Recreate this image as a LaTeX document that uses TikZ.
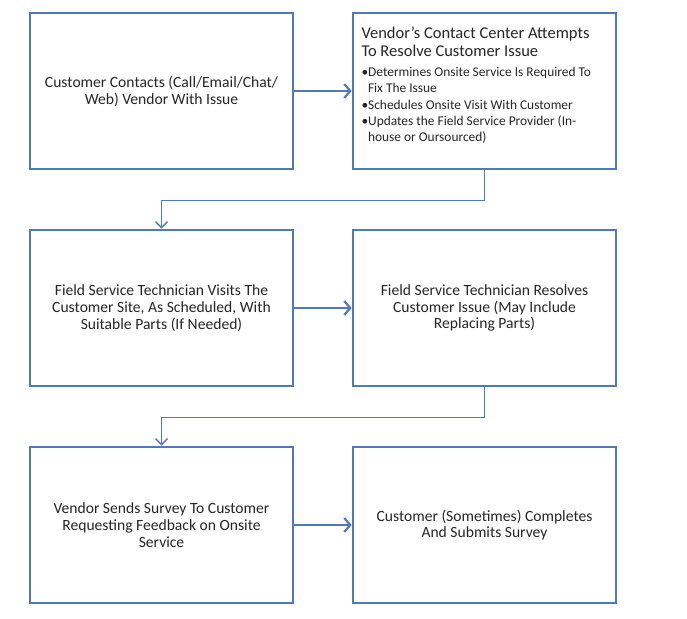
\documentclass[tikz,border=0pt]{standalone}
\usepackage{fontspec}
\setmainfont{Carlito}
\usepackage{xcolor}
\definecolor{flowblue}{HTML}{5079B5}
\definecolor{flowtext}{HTML}{262626}
\usetikzlibrary{positioning,arrows.meta}

\begin{document}
\begin{tikzpicture}[
  x=1pt,y=1pt,
  node distance=58.4pt and 57.4pt,
  stage/.style={rectangle,draw=flowblue,line width=2.6pt,fill=white,
                minimum width=263pt,minimum height=156pt,inner sep=0pt,
                align=center,text=flowtext,font=\fontsize{15.6}{16.8}\selectfont},
  arr/.style  ={-{Straight Barb[length=6pt,width=14pt]},line width=2.2pt,flowblue},
  elbow/.style={-{Straight Barb[length=6pt,width=12pt]},line width=1.4pt,flowblue}
]
\useasboundingbox (0,0) rectangle (687,-618);

\node[stage] (contact) at (161.5,-91) {Customer Contacts (Call/Email/Chat/\\Web) Vendor With Issue};
\node[stage,right=of contact] (attempt) {\begin{minipage}[c][156pt][t]{246pt}\raggedright
  \vspace*{13.5pt}
  {\fontsize{16.5}{18}\selectfont Vendor's Contact Center Attempts\\To Resolve Customer Issue\par}
  \vspace{4pt}
  {\fontsize{13.4}{16.3}\selectfont
  \textbullet Determines Onsite Service Is Required To\\
  \hspace*{6.5pt}Fix The Issue\\
  \textbullet Schedules Onsite Visit With Customer\\
  \textbullet Updates the Field Service Provider (In-\\
  \hspace*{6.5pt}house or Oursourced)\par}
  \end{minipage}};

\node[stage,below=of contact] (visit)   {Field Service Technician Visits The\\Customer Site, As Scheduled, With\\Suitable Parts (If Needed)};
\node[stage,below=of attempt] (resolve) {Field Service Technician Resolves\\Customer Issue (May Include\\Replacing Parts)};

\node[stage,below=of visit]   (survey)   {Vendor Sends Survey To Customer\\Requesting Feedback on Onsite\\Service};
\node[stage,below=of resolve] (complete) {Customer (Sometimes) Completes\\And Submits Survey};

\draw[arr] (contact) -- (attempt);
\draw[arr] (visit)   -- (resolve);
\draw[arr] (survey)  -- (complete);

\draw[elbow] (attempt.south) -- ++(0,-30) -| (visit.north);
\draw[elbow] (resolve.south) -- ++(0,-30) -| (survey.north);

\end{tikzpicture}
\end{document}
